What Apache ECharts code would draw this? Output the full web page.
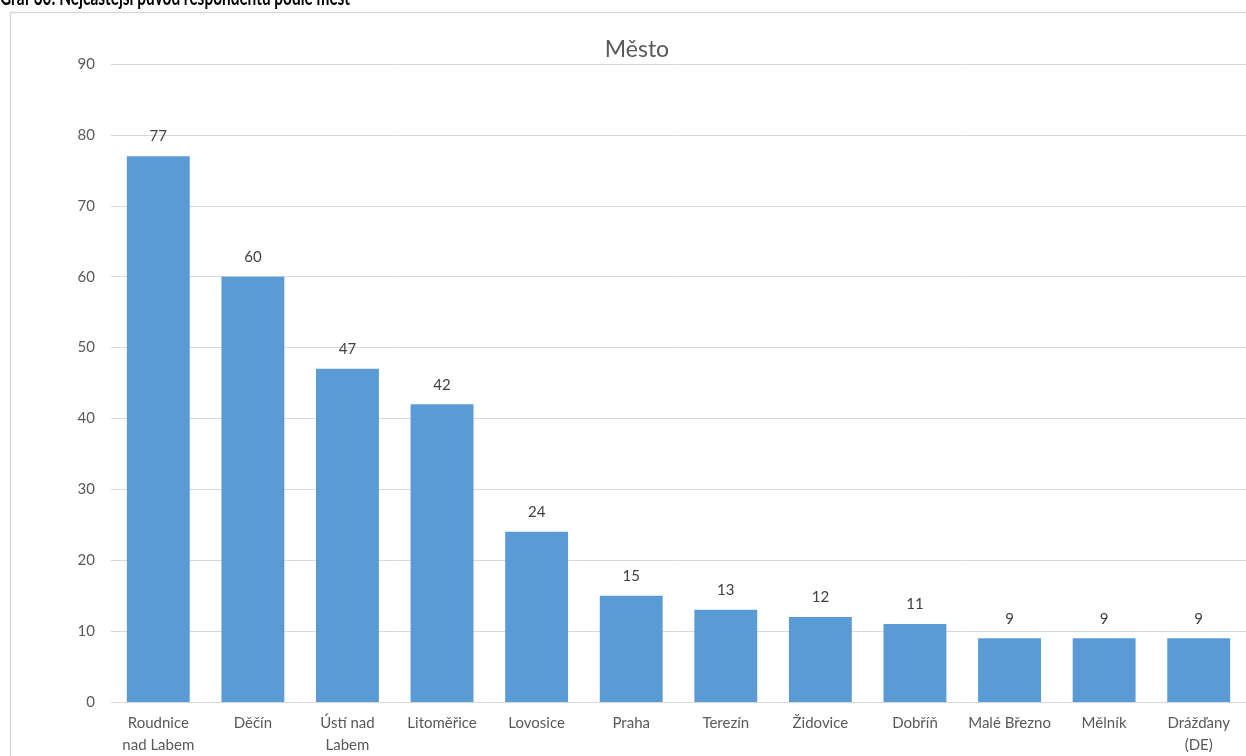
<!DOCTYPE html>
<html>
<head>
<meta charset="utf-8">
<script src="https://cdn.jsdelivr.net/npm/echarts@6/dist/echarts.min.js"></script>
<style>
html,body{margin:0;padding:0;background:#fff;}
#c{width:1246px;height:756px;}
</style>
</head>
<body>
<div id="c"></div>
<script>
const pageTitle = 'Graf 30: Nejčastější původ respondentů podle měst';
const chartTitle = 'Město';
const categories = ['Roudnice\nnad Labem', 'Děčín', 'Ústí nad\nLabem', 'Litoměřice', 'Lovosice', 'Praha', 'Terezín', 'Židovice', 'Dobříň', 'Malé Březno', 'Mělník', 'Drážďany\n(DE)'];
const values = [77, 60, 47, 42, 24, 15, 13, 12, 11, 9, 9, 9];
const yTicks = {min: 0, max: 90, interval: 10};

const chart = echarts.init(document.getElementById('c'), null, {renderer: 'canvas'});
const font = 'Lato, "Open Sans", sans-serif';
chart.setOption({
  animation: false,
  backgroundColor: '#fff',
  graphic: [
    {type: 'rect', shape: {x: 10.5, y: 12.5, width: 1244, height: 800}, style: {fill: 'none', stroke: '#d9d9d9', lineWidth: 1.5}, z: -1},
    {type: 'text', x: 0, y: -13, scaleX: 0.7, style: {text: pageTitle, font: 'bold 22px Lato, sans-serif', fill: '#000'}}
  ],
  title: {
    text: chartTitle, left: 632, top: 33, textAlign: 'center',
    textStyle: {fontFamily: font, fontSize: 23, fontWeight: 'normal', color: '#595959'}
  },
  grid: {left: 111, right: -2, top: 64, bottom: 48, containLabel: false},
  xAxis: {
    type: 'category', data: categories,
    axisLine: {lineStyle: {color: '#d9d9d9', width: 1}},
    axisTick: {show: false},
    axisLabel: {interval: 0, color: '#595959', fontFamily: font, fontSize: 15, margin: 10, lineHeight: 22}
  },
  yAxis: {
    type: 'value', min: yTicks.min, max: yTicks.max, interval: yTicks.interval,
    axisLine: {show: false}, axisTick: {show: false},
    splitLine: {lineStyle: {color: '#d9d9d9', width: 1}},
    axisLabel: {color: '#595959', fontFamily: font, fontSize: 15, margin: 16}
  },
  series: [{
    type: 'bar', data: values, barWidth: '66.5%',
    itemStyle: {color: '#5b9bd5'},
    label: {show: true, position: 'top', distance: 12, color: '#404040', fontFamily: font, fontSize: 15}
  }]
});
</script>
</body>
</html>
